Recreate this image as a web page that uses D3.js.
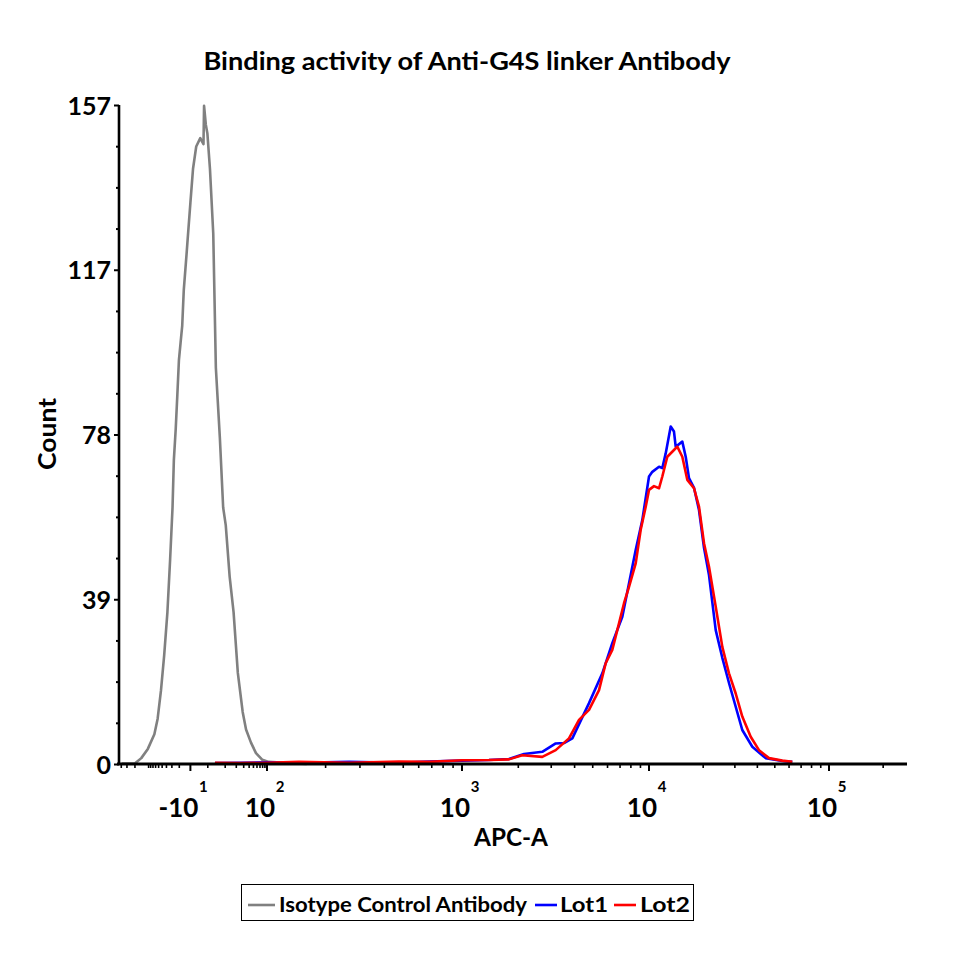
<!DOCTYPE html>
<html><head><meta charset="utf-8">
<script src="https://cdn.jsdelivr.net/npm/d3@7"></script>
<style>body{margin:0;background:#fff}svg text{font-family:Lato,"Open Sans",sans-serif;font-weight:bold;fill:#000}</style>
</head><body><svg id="c" width="967" height="965"></svg>
<script>
// ---------- data (APC-A value, count) ----------
const isoX = [-392,-202,-145,-104,-74.5,-63,-53,-45,-38,-33,-29,-27,-24.4,-22.3,-20.4,-18.6,-16.9,-15.4,-13,-12,-10,-8.2,-6.2,-3.9,-2.2,-1.9,-1.0,-0.2,1.1,2.8,4.2,6.5,8.6,10.4,13.5,17.1,21.8,28.4,34,44,57,79,102,130,160];
const isoY = [0.1,0.1,1.4,3.6,7.1,10.8,17.6,25.9,36.2,48.6,61.1,72.4,79.8,88.0,96.3,100.3,104.4,112.9,121.3,125.3,133.7,141.8,147.1,149.1,147.7,156.8,152.3,150.2,141.8,126.4,94.4,77.7,61.1,56.9,44.6,36.2,21.7,12.4,8.2,5.1,2.6,1.0,0.5,0.2,0];

const lot1X = [3.7,24,100,146,264,475,678,1000,1393,1782,2146,2687,3170,3512,3890,4777,5627,6363,7200,8488,9208,10000,10431,11370,11856,12381,13200,13764,14071,15311,15991,16681,17783,18957,20212,21544,23479,25545,27826,32981,37497,44480,55030,62550];
const lot1Y = [0.2,0.3,0.4,0.3,0.5,0.3,0.6,0.8,0.95,1.2,2.4,2.9,4.9,5.0,6.1,14.5,21.6,28.8,35.1,51.0,58.1,68.5,69.6,70.8,70.5,74.0,80.4,79.2,75.6,76.8,73.2,68.1,65.8,60.5,51.5,45.0,31.9,25.3,19.3,8.1,4.1,1.4,0.7,0.5];

const lot2X = [3.7,24,100,146,264,475,678,1000,1393,1782,2099,2687,3170,3733,4224,4777,5404,5867,6363,6911,7351,7817,8488,9027,9603,10000,10660,11370,11856,12638,13764,14362,15311,16322,17783,18957,20212,21544,23479,25545,27826,30318,32981,36728,40842,46416,55030,62550];
const lot2Y = [0.3,0.2,0.3,0.5,0.3,0.6,0.5,0.9,0.95,1.1,2.1,1.7,3.3,6.1,10.5,12.9,17.6,24.0,27.2,33.5,38.3,42.2,47.8,55.8,61.3,65.3,66.2,65.7,68.5,73.2,74.8,75.6,73.2,67.7,65.7,61.3,52.6,47.0,37.5,27.9,21.6,16.8,11.3,6.5,3.3,1.4,0.8,0.5];

const seriesNames = ["Isotype Control Antibody","Lot1","Lot2"];
const seriesColors = ["#808080","#0000ff","#ff0000"];

const yTickVals = [0,39.25,78.5,117.75,157];
const xMajorVals = [-10,100,1000,10000,100000];
const xMajorBase = ["-10","10","10","10","10"];
const xMajorExp = ["1","2","3","4","5"];
const xMinorVals = [-400,-300,-200,-100,-90,-80,-70,-60,-50,-40,-30,-20,0,10,20,30,40,50,60,70,80,90,
  200,300,400,500,600,700,800,900,2000,3000,4000,5000,6000,7000,8000,9000,
  20000,30000,40000,50000,60000,70000,80000,90000,200000];

// ---------- layout ----------
const L = 119, R = 907, T = 105, B = 764;
const svg = d3.select("#c");
const fT = v => Math.asinh(v / 10);
// biexponential-like display: piecewise over transformed decades
const xs = d3.scaleLinear()
  .domain(xMajorVals.map(fT))
  .range([L + 0.0906*(R-L), L + 0.1878*(R-L), L + 0.4353*(R-L), L + 0.6726*(R-L), L + 0.901*(R-L)]);
const x = v => xs(fT(v));
const y = d3.scaleLinear().domain([0,157]).range([B,T]);

// title
svg.append("text").attr("x",467).attr("y",70).attr("text-anchor","middle")
  .attr("textLength",527).attr("lengthAdjust","spacingAndGlyphs")
  .style("font-size","25px").text("Binding activity of Anti-G4S linker Antibody");

// curves
const line = d3.line().x(d=>x(d[0])).y(d=>y(d[1]));
const data = [d3.zip(isoX,isoY), d3.zip(lot1X,lot1Y), d3.zip(lot2X,lot2Y)];
data.forEach((d,i)=>{
  svg.append("path").datum(d).attr("d",line).attr("fill","none")
    .attr("stroke",seriesColors[i]).attr("stroke-width",2.6).attr("stroke-linejoin","round");
});

// y axis
const yMinor = d3.range(0,157.001,157/16).filter(v=>!yTickVals.some(t=>Math.abs(t-v)<0.01));
svg.append("g").attr("transform",`translate(${L},0)`)
  .call(d3.axisLeft(y).tickValues(yMinor).tickSize(3).tickFormat(""))
  .call(g=>g.select(".domain").remove())
  .selectAll("line").attr("stroke","#000").attr("stroke-width",2);
const ya = svg.append("g").attr("transform",`translate(${L},0)`)
  .call(d3.axisLeft(y).tickValues(yTickVals).tickSize(5).tickPadding(3).tickFormat(v=>Math.floor(v)));
ya.select(".domain").attr("stroke","#000").attr("stroke-width",2.6).attr("d",`M0,${B}V${T}`);
ya.selectAll("line").attr("stroke","#000").attr("stroke-width",2);
ya.selectAll("text").style("font-size","25px").style("font-family","Lato,sans-serif").style("font-weight","bold").attr("dy","0.36em");

// x axis
svg.append("line").attr("x1",L-2).attr("x2",R).attr("y1",B).attr("y2",B).attr("stroke","#000").attr("stroke-width",3);
svg.selectAll(".xmin").data(xMinorVals).enter().append("line")
  .attr("x1",d=>x(d)).attr("x2",d=>x(d)).attr("y1",B).attr("y2",B+4).attr("stroke","#000").attr("stroke-width",1.6);
svg.selectAll(".xmaj").data(xMajorVals).enter().append("line")
  .attr("x1",d=>x(d)).attr("x2",d=>x(d)).attr("y1",B).attr("y2",B+7).attr("stroke","#000").attr("stroke-width",2);
xMajorVals.forEach((v,i)=>{
  const px = x(v);
  svg.append("text").attr("x",px+8).attr("y",817).attr("text-anchor","end").style("font-size","26px").text(xMajorBase[i]);
  svg.append("text").attr("x",px+13).attr("y",792).attr("text-anchor","middle").style("font-size","15px").text(xMajorExp[i]);
});

// axis titles
svg.append("text").attr("x",511).attr("y",846).attr("text-anchor","middle")
  .attr("textLength",74).attr("lengthAdjust","spacingAndGlyphs").style("font-size","25px").text("APC-A");
svg.append("text").attr("transform","translate(56,434) rotate(-90)").attr("text-anchor","middle")
  .attr("textLength",72).attr("lengthAdjust","spacingAndGlyphs").style("font-size","25px").text("Count");

// legend
const lg = svg.append("g");
lg.append("rect").attr("x",241.5).attr("y",884.5).attr("width",452).attr("height",36).attr("fill","#fff").attr("stroke","#000").attr("stroke-width",1);
const lgX = [248,535,614], lgTX=[279,560,640], lgW=[248,48,50];
seriesNames.forEach((n,i)=>{
  lg.append("line").attr("x1",lgX[i]).attr("x2",lgX[i]+(i?22:27)).attr("y1",905).attr("y2",905).attr("stroke",seriesColors[i]).attr("stroke-width",2.6);
  lg.append("text").attr("x",lgTX[i]).attr("y",912).attr("textLength",lgW[i]).attr("lengthAdjust","spacingAndGlyphs").style("font-size","21px").text(n);
});
</script></body></html>
